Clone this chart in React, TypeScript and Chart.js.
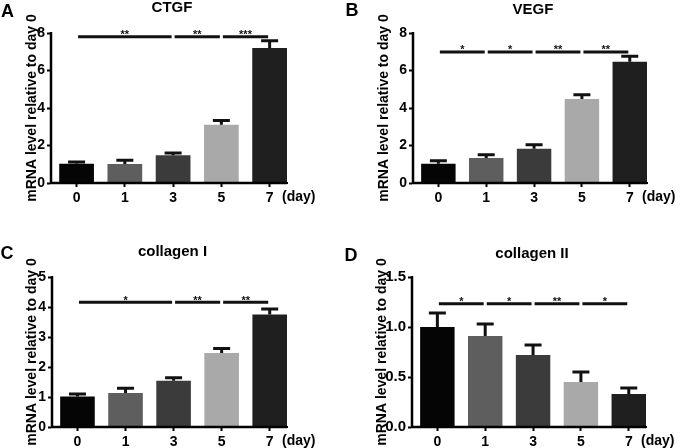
import React, { useEffect, useRef } from 'react';
import { Chart, registerables } from 'chart.js';

Chart.register(...registerables);

const FONT = '"Liberation Sans", Arial, Helvetica, sans-serif';

const categories = ['0', '1', '3', '5', '7'];
const barColors = ['#050505', '#5e5e5e', '#3b3b3b', '#a9a9a9', '#1f1f1f'];

// A: CTGF
const ctgfMean = [1.03, 1.01, 1.48, 3.11, 7.2];
const ctgfSem = [0.09, 0.2, 0.12, 0.23, 0.39];
const ctgfTicks = [0, 2, 4, 6, 8];
const ctgfSigFrom = [0, 2, 3];
const ctgfSigTo = [2, 3, 4];
const ctgfSigMark = ['**', '**', '***'];
const ctgfSigLevel = 7.8;

// B: VEGF
const vegfMean = [1.03, 1.33, 1.83, 4.48, 6.47];
const vegfSem = [0.16, 0.18, 0.21, 0.23, 0.29];
const vegfTicks = [0, 2, 4, 6, 8];
const vegfSigFrom = [0, 1, 2, 3];
const vegfSigTo = [1, 2, 3, 4];
const vegfSigMark = ['*', '*', '**', '**'];
const vegfSigLevel = 6.99;

// C: collagen I
const col1Mean = [1.02, 1.13, 1.54, 2.47, 3.75];
const col1Sem = [0.08, 0.16, 0.1, 0.15, 0.18];
const col1Ticks = [0, 1, 2, 3, 4, 5];
const col1SigFrom = [0, 2, 3];
const col1SigTo = [2, 3, 4];
const col1SigMark = ['*', '**', '**'];
const col1SigLevel = 4.16;

// D: collagen II
const col2Mean = [1.0, 0.91, 0.72, 0.45, 0.33];
const col2Sem = [0.14, 0.12, 0.1, 0.1, 0.06];
const col2Ticks = [0, 0.5, 1.0, 1.5];
const col2SigFrom = [0, 1, 2, 3];
const col2SigTo = [1, 2, 3, 4];
const col2SigMark = ['*', '*', '**', '*'];
const col2SigLevel = 1.233;

const yAxisTitle = 'mRNA level relative to day 0';
const xUnit = '(day)';

type PanelCfg = {
  letter: string;
  title: string;
  mean: number[];
  sem: number[];
  ticks: number[];
  decimals: number;
  sigFrom: number[];
  sigTo: number[];
  sigMark: string[];
  sigLevel: number;
  left: number;
  top: number;
  axisW: number;
  padTop: number;
  padRight: number;
  xH: number;
  yTitleX: number;
  letterX: number;
  letterY: number;
  titleY: number;
  yTickFont: number;
};

const panels: PanelCfg[] = [
  {
    letter: 'A', title: 'CTGF', mean: ctgfMean, sem: ctgfSem, ticks: ctgfTicks, decimals: 0,
    sigFrom: ctgfSigFrom, sigTo: ctgfSigTo, sigMark: ctgfSigMark, sigLevel: ctgfSigLevel,
    left: 0, top: 0, axisW: 51, padTop: 33, padRight: 53, xH: 41, yTitleX: 32,
    letterX: 7.5, letterY: 12.5, titleY: 8, yTickFont: 14,
  },
  {
    letter: 'B', title: 'VEGF', mean: vegfMean, sem: vegfSem, ticks: vegfTicks, decimals: 0,
    sigFrom: vegfSigFrom, sigTo: vegfSigTo, sigMark: vegfSigMark, sigLevel: vegfSigLevel,
    left: 340, top: 0, axisW: 73, padTop: 33, padRight: 33, xH: 41, yTitleX: 44.5,
    letterX: 12, letterY: 11, titleY: 10, yTickFont: 14,
  },
  {
    letter: 'C', title: 'collagen I', mean: col1Mean, sem: col1Sem, ticks: col1Ticks, decimals: 0,
    sigFrom: col1SigFrom, sigTo: col1SigTo, sigMark: col1SigMark, sigLevel: col1SigLevel,
    left: 0, top: 224, axisW: 52, padTop: 53, padRight: 53, xH: 21, yTitleX: 32,
    letterX: 7, letterY: 30, titleY: 28, yTickFont: 14,
  },
  {
    letter: 'D', title: 'collagen II', mean: col2Mean, sem: col2Sem, ticks: col2Ticks, decimals: 1,
    sigFrom: col2SigFrom, sigTo: col2SigTo, sigMark: col2SigMark, sigLevel: col2SigLevel,
    left: 340, top: 224, axisW: 72, padTop: 53, padRight: 34, xH: 21, yTitleX: 42.5,
    letterX: 11, letterY: 32, titleY: 30, yTickFont: 15,
  },
];

function Panel({ cfg }: { cfg: PanelCfg }) {
  const ref = useRef<HTMLCanvasElement>(null);

  useEffect(() => {
    const canvas = ref.current;
    if (!canvas) return;

    const annot = {
      id: 'annot',
      afterDatasetsDraw(chart: any) {
        const ctx = chart.ctx as CanvasRenderingContext2D;
        const xs = chart.scales.x;
        const ys = chart.scales.y;
        ctx.save();
        ctx.strokeStyle = '#111';
        ctx.lineWidth = 3;
        ctx.lineCap = 'butt';
        // error bars (upper only)
        cfg.mean.forEach((m, i) => {
          const x = xs.getPixelForValue(i);
          const y0 = ys.getPixelForValue(m);
          const y1 = ys.getPixelForValue(m + cfg.sem[i]);
          ctx.beginPath();
          ctx.moveTo(x, y0);
          ctx.lineTo(x, y1);
          ctx.moveTo(x - 8.5, y1);
          ctx.lineTo(x + 8.5, y1);
          ctx.stroke();
        });
        // significance lines
        const ly = ys.getPixelForValue(cfg.sigLevel);
        ctx.fillStyle = '#111';
        ctx.font = `bold 11px ${FONT}`;
        ctx.textAlign = 'center';
        ctx.textBaseline = 'alphabetic';
        cfg.sigFrom.forEach((f, k) => {
          const xa = xs.getPixelForValue(f) + 1.5;
          const xb = xs.getPixelForValue(cfg.sigTo[k]) - 1.5;
          ctx.beginPath();
          ctx.moveTo(xa, ly);
          ctx.lineTo(xb, ly);
          ctx.stroke();
          ctx.fillText(cfg.sigMark[k], (xa + xb) / 2, ly + 1.5);
        });
        ctx.restore();
      },
      afterDraw(chart: any) {
        const ctx = chart.ctx as CanvasRenderingContext2D;
        const area = chart.chartArea;
        const ys = chart.scales.y;
        ctx.save();
        // axis lines
        ctx.strokeStyle = '#000';
        ctx.lineWidth = 2.5;
        ctx.beginPath();
        ctx.moveTo(area.left, ys.getPixelForValue(cfg.ticks[cfg.ticks.length - 1]) - 1);
        ctx.lineTo(area.left, area.bottom);
        ctx.lineTo(area.right, area.bottom);
        ctx.stroke();

        ctx.fillStyle = '#000';
        // panel letter
        ctx.font = `bold 18px ${FONT}`;
        ctx.textAlign = 'center';
        ctx.textBaseline = 'middle';
        ctx.fillText(cfg.letter, cfg.letterX, cfg.letterY);
        // title
        ctx.font = `bold 15px ${FONT}`;
        ctx.fillText(cfg.title, (area.left + area.right) / 2 + 3, cfg.titleY);
        // x unit
        ctx.font = `bold 14px ${FONT}`;
        ctx.textAlign = 'left';
        ctx.textBaseline = 'top';
        ctx.fillText(xUnit, area.right - 5, area.bottom + 7);
        // y title
        ctx.translate(cfg.yTitleX, (area.top + area.bottom) / 2);
        ctx.rotate(-Math.PI / 2);
        ctx.textAlign = 'center';
        ctx.textBaseline = 'middle';
        ctx.font = `bold 14px ${FONT}`;
        ctx.fillText(yAxisTitle, 0, 0);
        ctx.restore();
      },
    };

    const chart = new Chart(canvas, {
      type: 'bar',
      data: {
        datasets: [
          {
            data: cfg.mean.map((m, i) => ({ x: i, y: m })),
            backgroundColor: barColors,
            borderWidth: 0,
            barPercentage: 0.72,
            categoryPercentage: 1,
          },
        ],
      },
      options: {
        responsive: false,
        animation: false,
        events: [],
        layout: { padding: { top: cfg.padTop, right: cfg.padRight, bottom: 0, left: 0 } },
        plugins: {
          legend: { display: false },
          title: { display: false },
          tooltip: { enabled: false },
        },
        scales: {
          x: {
            type: 'linear',
            offset: false,
            min: -0.53,
            max: 4.36,
            afterBuildTicks: (scale: any) => {
              scale.ticks = categories.map((_, i) => ({ value: i }));
            },
            afterFit: (scale: any) => {
              scale.height = cfg.xH;
            },
            ticks: {
              autoSkip: false,
              maxRotation: 0,
              padding: 3,
              color: '#000',
              font: { family: FONT, size: 14, weight: 'bold' },
              callback: (_v: any, idx: number) => categories[idx],
            },
            grid: {
              display: true,
              offset: false,
              drawOnChartArea: false,
              drawTicks: true,
              tickLength: 4,
              tickWidth: 2,
              tickColor: '#000',
              color: '#000',
            },
            border: { display: true, color: '#000', width: 2 },
          },
          y: {
            type: 'linear',
            min: cfg.ticks[0],
            max: cfg.ticks[cfg.ticks.length - 1],
            afterBuildTicks: (scale: any) => {
              scale.ticks = cfg.ticks.map((v) => ({ value: v }));
            },
            afterFit: (scale: any) => {
              scale.width = cfg.axisW;
            },
            ticks: {
              padding: 2,
              color: '#000',
              font: { family: FONT, size: cfg.yTickFont, weight: 'bold' },
              callback: (v: any) => Number(v).toFixed(cfg.decimals),
            },
            grid: {
              display: true,
              drawOnChartArea: false,
              drawTicks: true,
              tickLength: 4,
              tickWidth: 2,
              tickColor: '#000',
              color: '#000',
            },
            border: { display: true, color: '#000', width: 2 },
          },
        },
      } as any,
      plugins: [annot],
    });

    return () => chart.destroy();
  }, [cfg]);

  return (
    <canvas
      ref={ref}
      width={340}
      height={224}
      style={{ position: 'absolute', left: cfg.left, top: cfg.top, width: 340, height: 224 }}
    />
  );
}

export default function App() {
  return (
    <div
      style={{
        position: 'fixed',
        left: 0,
        top: 0,
        width: 680,
        height: 448,
        background: '#fff',
        overflow: 'hidden',
      }}
    >
      {panels.map((p) => (
        <Panel key={p.letter} cfg={p} />
      ))}
    </div>
  );
}
